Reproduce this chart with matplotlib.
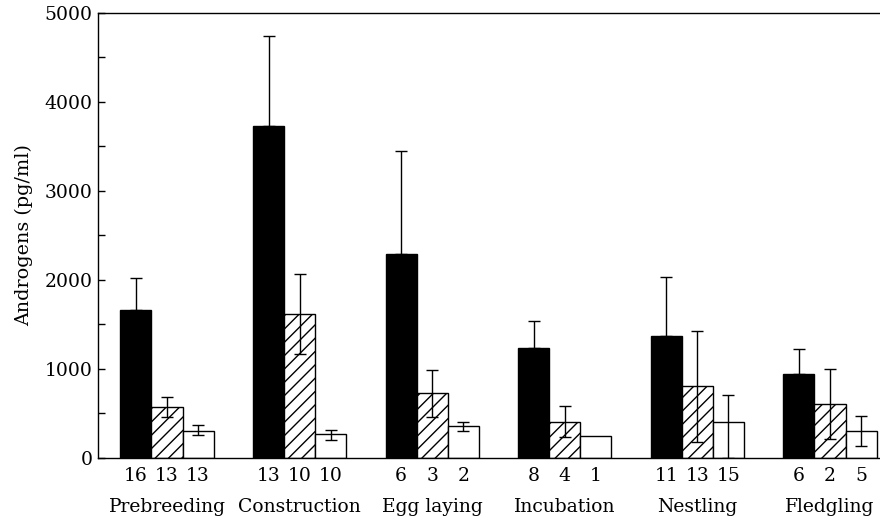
import numpy as np
import matplotlib
matplotlib.use('Agg')
import matplotlib.pyplot as plt
from matplotlib.ticker import MultipleLocator
import matplotlib.transforms as mtransforms

# Breeding stages
stages = ['Prebreeding', 'Construction', 'Egg laying', 'Incubation', 'Nestling', 'Fledgling']

# Black bars (upper error only)
black_mean = [1660, 3730, 2290, 1235, 1375, 945]
black_se = [365, 1010, 1160, 305, 655, 280]
black_n = [16, 13, 6, 8, 11, 6]

# Hatched bars
hatch_mean = [575, 1615, 725, 410, 805, 608]
hatch_se = [110, 450, 265, 172, 622, 395]
hatch_n = [13, 10, 3, 4, 13, 2]

# White bars (error below / above read separately)
white_mean = [307, 270, 364, 251, 405, 304]
white_se_down = [48, 68, 64, 0, 405, 165]
white_se_up = [64, 45, 45, 0, 307, 172]
white_n = [13, 10, 2, 1, 15, 5]

# rendered at 80 dpi so the hatch is a bit denser; point sizes scaled up to compensate
DPI = 80
k = 100 / DPI

plt.rcParams['font.family'] = 'DejaVu Serif'
plt.rcParams['hatch.linewidth'] = 1.0 * k

fig = plt.figure(figsize=(880 / DPI, 532 / DPI), dpi=DPI)
ax = fig.add_axes([0.1114, 0.1391, 0.8886, 0.8365])

x = np.arange(len(stages))
w = 0.234

# Bars
ax.bar(x - w, black_mean, w, color='black', edgecolor='black', linewidth=1 * k, zorder=2)
ax.bar(x, hatch_mean, w, color='white', edgecolor='black', hatch='//', linewidth=1 * k, zorder=2)
ax.bar(x + w, white_mean, w, color='white', edgecolor='black', linewidth=1 * k, zorder=2)

# Error bars
ax.errorbar(x - w, black_mean, yerr=[np.zeros(len(x)), black_se], fmt='none',
            ecolor='black', elinewidth=1 * k, capsize=4.5 * k, capthick=1 * k, zorder=3)
ax.errorbar(x, hatch_mean, yerr=hatch_se, fmt='none',
            ecolor='black', elinewidth=1 * k, capsize=4.3 * k, capthick=1 * k, zorder=3)
has_err = [i for i in range(len(x)) if white_se_up[i] > 0]
ax.errorbar(x[has_err] + w, np.array(white_mean)[has_err],
            yerr=[np.array(white_se_down)[has_err], np.array(white_se_up)[has_err]],
            fmt='none', ecolor='black', elinewidth=1 * k, capsize=4.3 * k, capthick=1 * k, zorder=3)

# Axes styling
ax.set_xlim(-0.52, 5.377)
ax.set_ylim(0, 5000)
ax.spines['right'].set_visible(False)
for s in ['left', 'top', 'bottom']:
    ax.spines[s].set_linewidth(1 * k)
ax.set_xticks([])
ax.yaxis.set_major_locator(MultipleLocator(1000))
ax.yaxis.set_minor_locator(MultipleLocator(500))
ax.tick_params(axis='y', which='both', direction='in', length=4.7 * k, width=1 * k,
               labelsize=13.5 * k, pad=4 * k)
ax.set_ylabel('Androgens (pg/ml)', fontsize=13.8 * k, labelpad=8 * k)

# Sample sizes and stage labels below the axis
trans = mtransforms.blended_transform_factory(ax.transData, ax.transAxes)
for i in range(len(stages)):
    for off, n in zip([-w, 0, w], [black_n[i], hatch_n[i], white_n[i]]):
        ax.text(x[i] + off, -0.040, str(n), transform=trans, ha='center', va='center',
                fontsize=13.5 * k, clip_on=False)
    ax.text(x[i], -0.111, stages[i], transform=trans, ha='center', va='center',
            fontsize=13.5 * k, clip_on=False)

plt.savefig('out.png', dpi=DPI)
